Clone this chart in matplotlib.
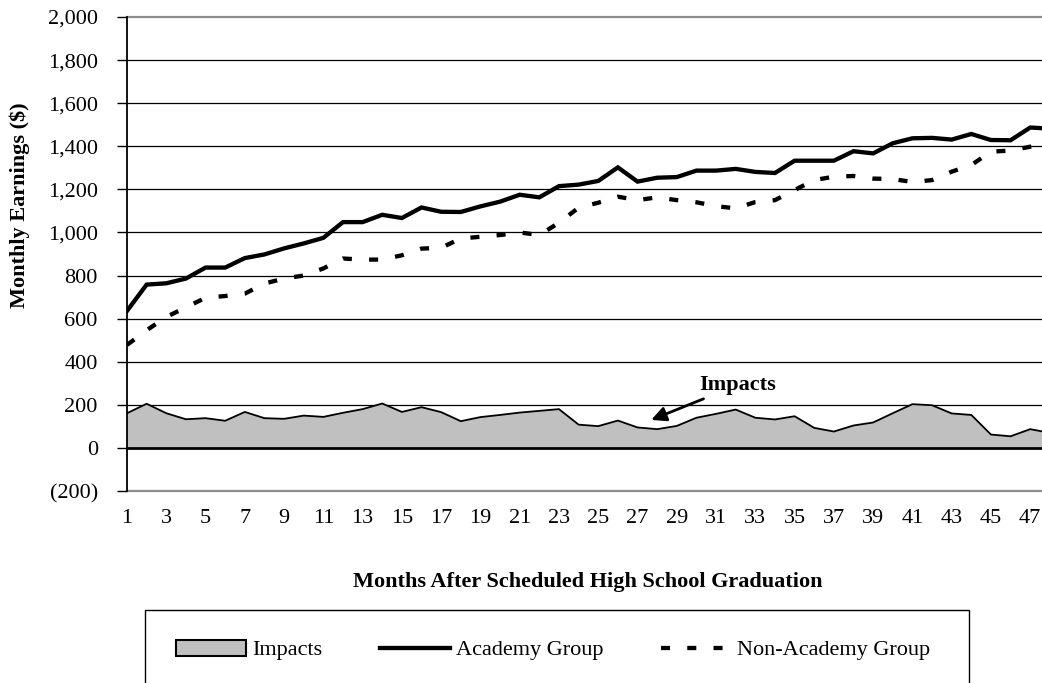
import matplotlib
matplotlib.use("Agg")
import matplotlib.pyplot as plt
from matplotlib.patches import Rectangle, Patch
from matplotlib.lines import Line2D
from matplotlib.ticker import FuncFormatter

plt.rcParams['font.family'] = ['Liberation Serif', 'DejaVu Serif']
plt.rcParams['font.size'] = 16

# months after scheduled graduation
months = list(range(1, 49))

academy = [636, 758, 764, 786, 837, 837, 881, 898, 926, 949, 975, 1048,
           1048, 1082, 1067, 1116, 1096, 1095, 1121, 1143, 1175, 1163, 1215, 1222,
           1239, 1302, 1236, 1254, 1257, 1287, 1287, 1295, 1281, 1276, 1333, 1333,
           1333, 1377, 1367, 1414, 1437, 1439, 1431, 1457, 1429, 1428, 1487, 1482]

non_academy = [478, 546, 608, 652, 697, 705, 716, 763, 786, 800, 833, 879,
               874, 874, 894, 925, 929, 972, 980, 988, 1000, 988, 1045, 1115,
               1138, 1166, 1150, 1163, 1150, 1140, 1122, 1112, 1141, 1150, 1197, 1243,
               1259, 1262, 1250, 1248, 1234, 1243, 1282, 1313, 1375, 1380, 1398, 1410]

impacts = [161, 205, 161, 133, 138, 126, 167, 138, 135, 150, 144, 163,
           180, 206, 167, 189, 166, 124, 143, 153, 164, 172, 180, 108,
           101, 127, 95, 87, 102, 140, 158, 178, 140, 132, 147, 93,
           76, 104, 118, 161, 203, 198, 160, 153, 62, 54, 87, 70]

y_ticks = list(range(-200, 2001, 200))
x_ticks = list(range(1, 48, 2))


def money(v, pos):
    if v < 0:
        return "({:,.0f})".format(-v)
    return "{:,.0f}".format(v)


fig = plt.figure(figsize=(10.42, 6.83), dpi=100)
ax = fig.add_axes([127 / 1042, 1 - 491 / 683, 1 - 127 / 1042, (491 - 17) / 683])

# gridlines (black), plot-area border (gray), zero line (thick)
for y in y_ticks:
    if y in (-200, 2000):
        ax.axhline(y, color="#8c8c8c", lw=1.6, zorder=1, clip_on=False)
    elif y == 0:
        continue
    else:
        ax.axhline(y, color="black", lw=0.9, zorder=1)

ax.fill_between(months, 0, impacts, facecolor="#c0c0c0", edgecolor="none", zorder=2)
ax.plot(months, impacts, color="black", lw=1.3, zorder=3)
ax.axhline(0, color="black", lw=2, zorder=4)

ax.plot(months, academy, color="black", lw=3.1, solid_joinstyle="miter", zorder=5)
ax.plot(months, non_academy, color="black", lw=3.1, dashes=(2.1, 4.0),
        dash_capstyle="butt", zorder=5)

ax.annotate("Impacts", xy=(27.7, 130), xytext=(30.15, 292),
            fontweight="bold", fontsize=16, ha="left", va="center",
            arrowprops=dict(arrowstyle="-|>", color="black", lw=2,
                            mutation_scale=22, shrinkA=2, shrinkB=0),
            zorder=6)

ax.set_xlim(1, 47.6)
ax.set_ylim(-200, 2000)
ax.set_yticks(y_ticks)
ax.yaxis.set_major_formatter(FuncFormatter(money))
ax.set_xticks(x_ticks)
ax.tick_params(axis="y", direction="out", length=7, width=1, pad=14, labelsize=16)
ax.tick_params(axis="x", length=0, pad=13, labelsize=16)

for s in ["top", "right", "bottom"]:
    ax.spines[s].set_visible(False)
ax.spines["left"].set_linewidth(1.3)
ax.spines["left"].set_zorder(7)

fig.text(20 / 1042, 1 - 205 / 683, "Monthly Earnings ($)", rotation=90,
         ha="center", va="center", fontweight="bold", fontsize=16)
fig.text(588 / 1042, 1 - 582 / 683, "Months After Scheduled High School Graduation",
         ha="center", va="center", fontweight="bold", fontsize=16)

# legend box runs off the bottom of the picture
fig.patches.append(Rectangle((145 / 1042, -0.05), (969 - 145) / 1042, 0.05 + 1 - 610 / 683,
                             transform=fig.transFigure, facecolor="none",
                             edgecolor="black", lw=1))

handles = [
    Patch(facecolor="#c0c0c0", edgecolor="black", lw=1.5, label="Impacts"),
    Line2D([], [], color="black", lw=3.1, label="Academy Group"),
    Line2D([], [], color="black", lw=3.1, dashes=(2.1, 4.0), dash_capstyle="butt",
           label="Non-Academy Group"),
]
fig.legend(handles=handles, loc="center left", bbox_to_anchor=(176 / 1042, 1 - 650 / 683),
           ncol=3, frameon=False, borderpad=0, borderaxespad=0, handlelength=3.15,
           handleheight=0.75, handletextpad=0.27, columnspacing=2.6, fontsize=16)

fig.savefig("out.png", dpi=100)
